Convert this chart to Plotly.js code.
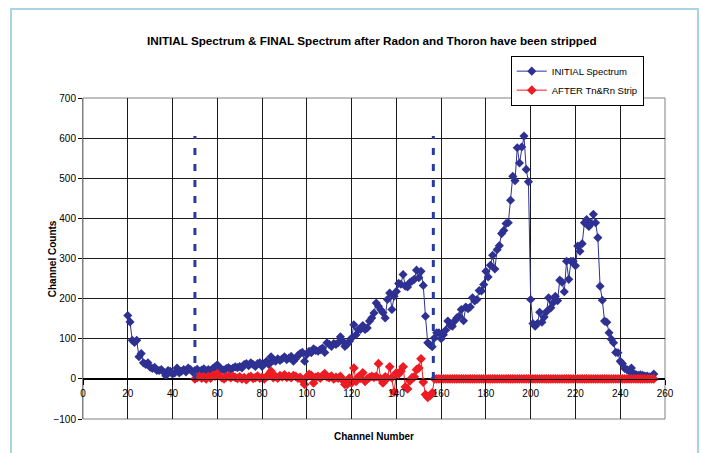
<!DOCTYPE html>
<html>
<head>
<meta charset="utf-8">
<script src="https://cdn.plot.ly/plotly-3.0.1.min.js"></script>
<style>
  html, body { margin: 0; padding: 0; background: #ffffff; }
  #wrap { position: relative; width: 702px; height: 453px; overflow: hidden; }
  #chart { position: absolute; left: 0; top: 0; width: 702px; height: 453px; }
  #frame { position: absolute; left: 10px; top: 8px; width: 685px; height: 470px;
           border: 2px solid #a9d4e4; pointer-events: none; }
</style>
</head>
<body>
<div id="wrap">
  <div id="chart"></div>
  <div id="frame"></div>
</div>
<script>
// ---- data ----
var initialStart = 20;   // first channel of INITIAL Spectrum
var afterStart = 50;     // first channel of AFTER Tn&Rn Strip

var initialCounts = [
  // ch20-49
  158, 142, 96, 91, 96, 55, 63, 40, 36, 40, 29, 26, 29, 21, 21, 23, 17, 8, 21, 19,
  12, 15, 27, 15, 19, 23, 17, 27, 23, 17,
  // ch50-69
  21, 24, 19, 22, 25, 20, 23, 21, 26, 30, 35, 27, 24, 22, 26, 28, 24, 27, 30, 28,
  // ch70-119
  31, 27, 36, 38, 33, 40, 36, 31, 38, 40,
  31, 38, 44, 36, 55, 46, 44, 50, 46, 50,
  55, 48, 52, 56, 44, 50, 58, 63, 66, 44,
  61, 69, 65, 75, 71, 69, 73, 77, 66, 90,
  86, 81, 88, 86, 90, 105, 94, 81, 86, 94,
  // ch120-158
  102, 135, 110, 123, 123, 133, 123, 127, 144, 152,
  164, 189, 181, 172, 165, 152, 198, 214, 173, 206,
  218, 238, 236, 260, 231, 229, 240, 244, 248, 271,
  252, 268, 233, 156, 90, 85, 80, 102, 115,
  // ch159-200
  115, 100, 110, 121, 144, 133, 131, 144, 152, 156,
  173, 145, 179, 175, 179, 202, 194, 198, 220, 219,
  235, 268, 254, 283, 308, 274, 322, 332, 362, 370,
  387, 389, 445, 505, 494, 576, 538, 578, 605, 522,
  491, 198,
  // ch201-212
  138, 131, 138, 166, 141, 154, 167, 202, 177, 190, 206, 195,
  // ch213-255
  246, 241, 217, 293, 248, 293, 293, 282, 331, 318,
  337, 389, 397, 380, 387, 410, 389, 352, 231, 196,
  144, 141, 115, 99, 90, 66, 65, 44, 38, 26,
  23, 19, 27, 13, 11, 9, 10, 9, 7, 7,
  5, 4, 12
];

var afterCounts = [
  // ch50-156
  0, 3, 6, 2, 5, 0, 6, 2, 9, 7,
  13, 8, 3, 0, 5, 7, 3, 6, 4, 1,
  5, 0, 3, -2, 4, 6, 1, 3, 7, 2,
  4, 0, 6, 8, 19, 3, 6, 2, 8, 5,
  10, 4, 7, 3, 8, 6, 2, 4, -4, -14,
  5, 11, 9, -10, 4, 6, 2, 8, 13, 5,
  3, 7, 0, 4, 2, 6, -3, -14, -14, 2,
  -10, 27, -6, 5, 2, 15, -6, 0, 4, 6,
  4, 6, 38, 0, -10, 5, 2, 30, 3, -33,
  15, 12, 19, 30, -20, -25, -5, 3, 5, 23,
  27, 50, -8, -39, -46, -42, -35,
  // ch157-255
  0, 0, 0, 0, 0, 0, 0, 0, 0, 0, 0, 0, 0, 0, 0, 0, 0, 0, 0, 0,
  0, 0, 0, 0, 0, 0, 0, 0, 0, 0, 0, 0, 0, 0, 0, 0, 0, 0, 0, 0,
  0, 0, 0, 0, 0, 0, 0, 0, 0, 0, 0, 0, 0, 0, 0, 0, 0, 0, 0, 0,
  0, 0, 0, 0, 0, 0, 0, 0, 0, 0, 0, 0, 0, 0, 0, 0, 0, 0, 0, 0,
  0, 0, 0, 0, 0, 0, 0, 0, 0, 0, 0, 0, 0, 0, 0, 0, 0, 0, 0
];

var roiLines = [50, 156.5];     // dashed region markers (channel)
var roiTop = 605;

var seriesNames = ['INITIAL Spectrum', 'AFTER Tn&Rn Strip'];
var titleText = 'INITIAL Spectrum &amp; FINAL Spectrum after Radon and Thoron have been stripped';
var xTitle = 'Channel Number';
var yTitle = 'Channel Counts';

// ---- build ----
function channels(start, n) { var a = []; for (var i = 0; i < n; i++) a.push(start + i); return a; }

var blue = 'rgb(46,49,146)';
var red = 'rgb(237,28,36)';
var font = 'Liberation Sans, Arial, sans-serif';

var traces = [
  { x: channels(initialStart, initialCounts.length), y: initialCounts, name: seriesNames[0],
    type: 'scatter', mode: 'lines+markers',
    line: { color: blue, width: 1 },
    marker: { symbol: 'diamond', size: 7, color: blue } },
  { x: channels(afterStart, afterCounts.length), y: afterCounts, name: seriesNames[1],
    type: 'scatter', mode: 'lines+markers',
    line: { color: red, width: 1 },
    marker: { symbol: 'diamond', size: 7.5, color: red } }
];

var shapes = roiLines.map(function (c) {
  return { type: 'line', xref: 'x', yref: 'y', x0: c, x1: c, y0: 0, y1: roiTop,
           line: { color: 'rgb(40,60,160)', width: 3, dash: '7px,9px' } };
});
shapes.push({ type: 'rect', xref: 'paper', yref: 'paper', x0: 0, x1: 1, y0: 0, y1: 1,
              line: { color: '#808080', width: 1 }, layer: 'below' });

var layout = {
  width: 702, height: 453,
  margin: { l: 83, r: 37, t: 98, b: 34 },
  paper_bgcolor: 'rgba(0,0,0,0)', plot_bgcolor: '#ffffff',
  font: { family: font, size: 10, color: '#000' },
  showlegend: true,
  legend: { x: 0.735, y: 1.132, xanchor: 'left', yanchor: 'top',
            bordercolor: '#000', borderwidth: 1, bgcolor: '#fff',
            font: { family: font, size: 9.5, color: '#000' }, tracegroupgap: 0 },
  xaxis: { range: [0, 260], dtick: 20, tick0: 0, anchor: 'free', position: 0.125,
           showgrid: true, gridcolor: '#1a1a1a', gridwidth: 1,
           showline: true, linecolor: '#000', linewidth: 1,
           ticks: 'outside', ticklen: 5, tickcolor: '#000', zeroline: false,
           tickfont: { family: font, size: 10, color: '#000' } },
  yaxis: { range: [-100, 700], dtick: 100, tick0: 0,
           showgrid: true, gridcolor: '#1a1a1a', gridwidth: 1,
           zeroline: true, zerolinecolor: '#000', zerolinewidth: 1,
           showline: true, linecolor: '#808080', linewidth: 1,
           ticks: 'outside', ticklen: 4, tickcolor: '#000',
           tickfont: { family: font, size: 10, color: '#000' } },
  shapes: shapes,
  annotations: [
    { text: '<b>' + titleText + '</b>', xref: 'paper', yref: 'paper', x: 0.497, y: 1.18,
      xanchor: 'center', yanchor: 'middle', showarrow: false,
      font: { family: font, size: 11.7, color: '#000' } },
    { text: '<b>' + xTitle + '</b>', xref: 'paper', yref: 'paper', x: 0.5, y: -0.055,
      xanchor: 'center', yanchor: 'middle', showarrow: false,
      font: { family: font, size: 10, color: '#000' } },
    { text: '<b>' + yTitle + '</b>', xref: 'paper', yref: 'paper', x: -0.052, y: 0.5,
      xanchor: 'center', yanchor: 'middle', textangle: -90, showarrow: false,
      font: { family: font, size: 10, color: '#000' } }
  ]
};

Plotly.newPlot('chart', traces, layout, { displayModeBar: false, staticPlot: true });
</script>
</body>
</html>
